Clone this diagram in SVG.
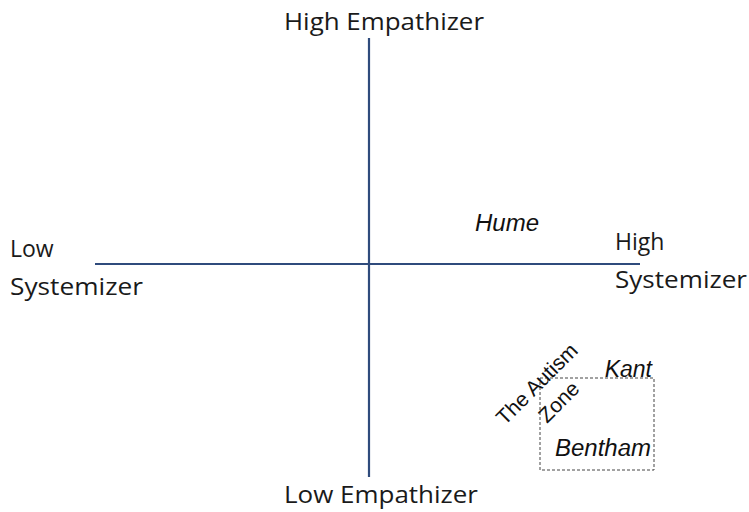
<svg xmlns="http://www.w3.org/2000/svg" width="749" height="512" viewBox="0 0 749 512">
<style>
.axis{stroke:#2f4b7c;stroke-width:2.2;fill:none}
.lbl{font-family:"Open Sans","Liberation Sans",sans-serif;font-size:23px;fill:#1a1a1a}
.nm{font-family:"Liberation Sans",Arial,sans-serif;font-style:italic;font-size:23px;fill:#111}
.zone{font-family:"Liberation Sans",Arial,sans-serif;font-size:21px;fill:#111}
.box{fill:none;stroke:#444;stroke-width:1;stroke-dasharray:3,2}
</style>
<rect width="749" height="512" fill="#fff"/>
<g id="connectors">
<line class="axis" x1="369" y1="38" x2="369" y2="477"/>
<line class="axis" x1="95" y1="264" x2="640" y2="264"/>
</g>
<g id="high-empathizer"><text class="lbl" x="284" y="30" textLength="200" lengthAdjust="spacingAndGlyphs">High Empathizer</text></g>
<g id="low-empathizer"><text class="lbl" x="284" y="503" textLength="194" lengthAdjust="spacingAndGlyphs">Low Empathizer</text></g>
<g id="low-systemizer"><text class="lbl" x="10" y="257">Low</text><text class="lbl" x="10" y="295" textLength="133" lengthAdjust="spacingAndGlyphs">Systemizer</text></g>
<g id="high-systemizer"><text class="lbl" x="615" y="250">High</text><text class="lbl" x="615" y="288" textLength="132" lengthAdjust="spacingAndGlyphs">Systemizer</text></g>
<g id="hume"><text class="nm" x="475" y="231" textLength="64" lengthAdjust="spacingAndGlyphs">Hume</text></g>
<g id="autism-zone">
<rect class="box" x="540" y="378" width="114" height="92"/>
<text class="zone" transform="translate(537,384) rotate(-45)" text-anchor="middle" y="7">The Autism</text>
<text class="zone" transform="translate(559,402) rotate(-45)" text-anchor="middle" y="7">Zone</text>
</g>
<g id="kant"><text class="nm" x="652" y="377" text-anchor="end">Kant</text></g>
<g id="bentham"><text class="nm" x="651" y="456" text-anchor="end" textLength="96" lengthAdjust="spacingAndGlyphs">Bentham</text></g>
</svg>
